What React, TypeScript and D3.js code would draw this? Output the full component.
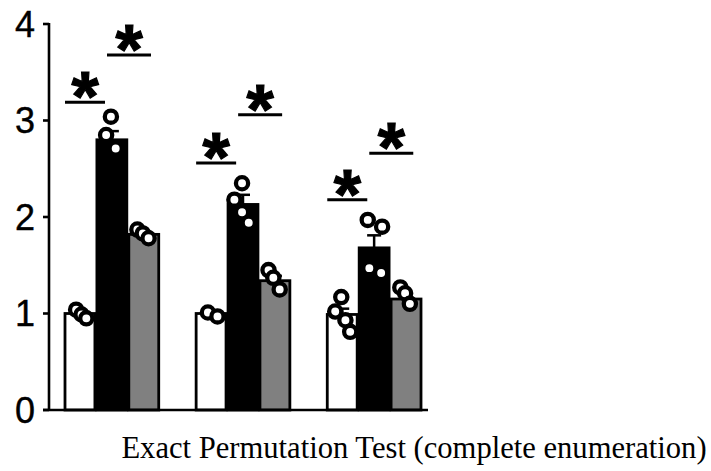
import React from "react";
import * as d3 from "d3";

const groups = ["G1", "G2", "G3"];
const series = ["Control", "Treatment", "Recovery"];
const seriesFill = ["#ffffff", "#000000", "#808080"];

// bar means per series for each group
const meanControl = [1.0, 1.0, 0.99];
const meanTreatment = [2.8, 2.13, 1.68];
const meanRecovery = [1.82, 1.34, 1.15];

const errControl = [0.03, 0.02, 0.06];
const errTreatment = [0.09, 0.1, 0.13];
const errRecovery = [0.03, 0.05, 0.05];

// individual points
const ptsControl = [[1.04, 0.99, 0.95], [1.01, 0.97], [1.17, 1.02, 0.93, 0.81]];
const ptsTreatment = [[3.04, 2.85, 2.71], [2.35, 2.18, 2.05, 1.94], [1.97, 1.9, 1.47, 1.42]];
const ptsRecovery = [[1.87, 1.83, 1.78], [1.45, 1.37, 1.25], [1.27, 1.21, 1.1]];

// horizontal jitter (fraction of bar width)
const jitControl = [[-0.12, 0.05, 0.2], [-0.1, 0.2], [-0.03, -0.22, 0.1, 0.25]];
const jitTreatment = [[-0.03, -0.18, 0.12], [-0.03, -0.27, -0.03, 0.18], [-0.2, 0.25, -0.15, 0.22]];
const jitRecovery = [[-0.2, -0.03, 0.15], [-0.2, -0.05, 0.15], [-0.18, -0.03, 0.12]];

// significance bar levels (data units)
const sigLevelA = [3.19, 2.56, 2.18];
const sigLevelB = [3.68, 3.06, 2.66];

const yTicks = [0, 1, 2, 3, 4];
const caption = "Exact Permutation Test (complete enumeration)";

const means = [meanControl, meanTreatment, meanRecovery];
const errs = [errControl, errTreatment, errRecovery];
const pts = [ptsControl, ptsTreatment, ptsRecovery];
const jits = [jitControl, jitTreatment, jitRecovery];

export default function App() {
  const W = 711, H = 471;
  const axisX = 49;
  const y = d3.scaleLinear().domain([0, 4]).range([410, 24]);
  const x0 = d3.scaleBand<string>().domain(groups).range([64, 422]).paddingInner(0.27).paddingOuter(0);
  const x1 = d3.scaleBand<string>().domain(series).range([0, x0.bandwidth()]).padding(0);
  const bw = x1.bandwidth();
  const starFs = 70;

  return (
    <svg width={W} height={H} style={{ position: "absolute", left: 0, top: 0, background: "#fff" }}>
      {groups.map((g, gi) => (
        <g key={g} transform={`translate(${x0(g)},0)`}>
          {series.map((s, si) => {
            const v = means[si][gi];
            return (
              <rect key={s} x={x1(s)! + 1} y={y(v)} width={bw - 2} height={y(0) - y(v)}
                fill={seriesFill[si]} stroke="#000" strokeWidth={2.8} />
            );
          })}
        </g>
      ))}
      {groups.map((g, gi) => (
        <g key={g} transform={`translate(${x0(g)},0)`}>
          {series.map((s, si) => {
            const v = means[si][gi];
            const e = errs[si][gi];
            const cx = x1(s)! + bw / 2;
            return (
              <g key={s}>
                <line x1={cx} x2={cx} y1={y(v)} y2={y(v + e)} stroke="#000" strokeWidth={2.5} />
                <line x1={cx - 7} x2={cx + 7} y1={y(v + e)} y2={y(v + e)} stroke="#000" strokeWidth={2.5} />
              </g>
            );
          })}
        </g>
      ))}
      {groups.map((g, gi) => (
        <g key={g} transform={`translate(${x0(g)},0)`}>
          {series.map((s, si) =>
            pts[si][gi].map((p, pi) => (
              <circle key={s + pi} cx={x1(s)! + bw / 2 + jits[si][gi][pi] * bw} cy={y(p)} r={6.1}
                fill="#fff" stroke="#000" strokeWidth={4.3} />
            ))
          )}
        </g>
      ))}
      {groups.map((g, gi) => {
        const gx = x0(g)!;
        const items = [
          { cx: gx + 21, lvl: sigLevelA[gi], w: 40 },
          { cx: gx + 65, lvl: sigLevelB[gi], w: 44 },
        ];
        return (
          <g key={g}>
            {items.map((it, k) => (
              <g key={k}>
                <line x1={it.cx - it.w / 2} x2={it.cx + it.w / 2} y1={y(it.lvl)} y2={y(it.lvl)} stroke="#000" strokeWidth={3} />
                <text x={it.cx} y={y(it.lvl) - 4 + 0.33 * starFs} textAnchor="middle"
                  fontFamily="Liberation Sans, Arial, sans-serif" fontWeight="bold" fontSize={starFs}
                  stroke="#000" strokeWidth={1.2}>*</text>
              </g>
            ))}
          </g>
        );
      })}
      <line x1={axisX} x2={axisX} y1={y(4) - 1} y2={y(0)} stroke="#000" strokeWidth={2.6} />
      <line x1={axisX - 6} x2={428} y1={y(0)} y2={y(0)} stroke="#000" strokeWidth={2.6} />
      {yTicks.map((t) => (
        <g key={t}>
          <line x1={axisX - 6} x2={axisX} y1={y(t)} y2={y(t)} stroke="#000" strokeWidth={2.6} />
          <text x={35} y={y(t)} dy="0.36em" textAnchor="end" fontFamily="Liberation Sans, Arial, sans-serif" fontSize={36}
            stroke="#000" strokeWidth={0.4}>{t}</text>
        </g>
      ))}
      <text x={414} y={458} textAnchor="middle" fontFamily="Liberation Serif, Times New Roman, serif" fontSize={30.6}>{caption}</text>
    </svg>
  );
}
